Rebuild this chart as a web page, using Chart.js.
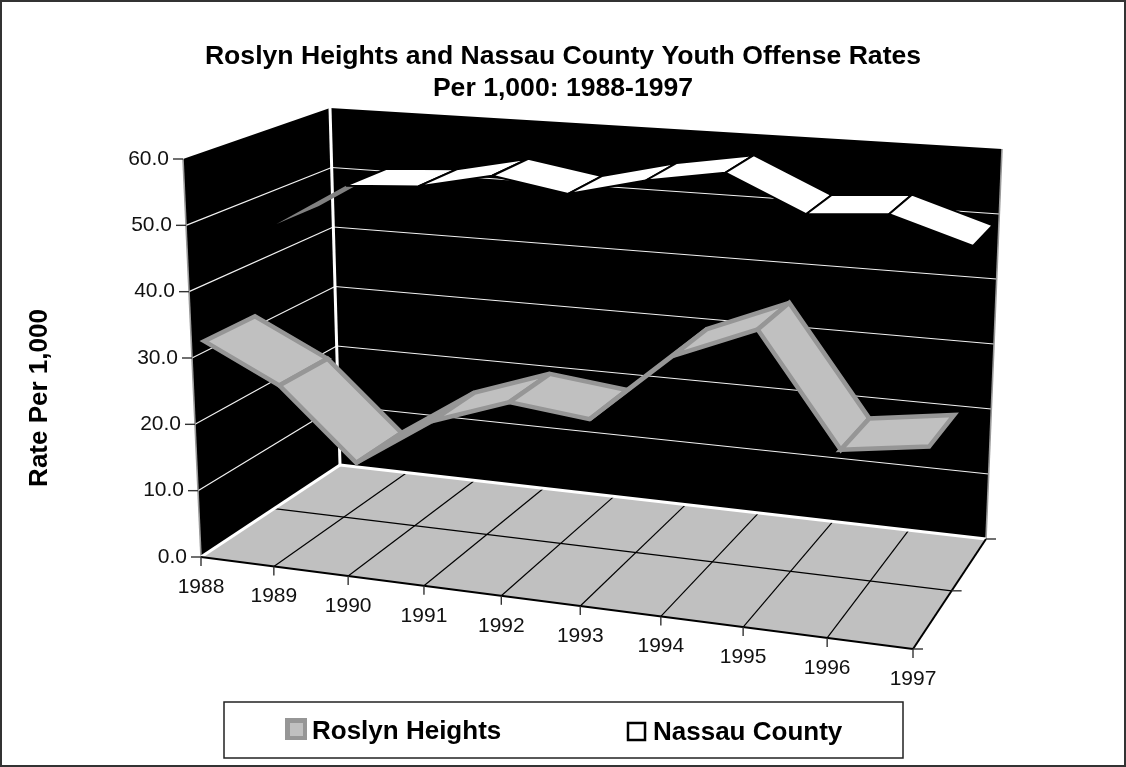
<!DOCTYPE html>
<html>
<head>
<meta charset="utf-8">
<style>html,body{margin:0;padding:0;background:#fff}canvas{display:block}</style>
<script src="https://cdn.jsdelivr.net/npm/chart.js@4"></script>
</head>
<body>
<canvas id="c" width="1126" height="767"></canvas>
<script>
const years = ['1988','1989','1990','1991','1992','1993','1994','1995','1996','1997'];
const roslynRates = [31.6,26.0,15.6,23.0,27.0,25.7,35.9,40.8,25.0,26.7];
const nassauRates = [44.5,51.5,52.2,54.7,52.7,55.6,57.6,52.2,53.1,49.3];
const valueMax = 60;
const valueStep = 10;

const FONT = '"Liberation Sans", Arial, sans-serif';

// Screen corners of the 3D plot box: floor and ceiling, ordered
// front-left, front-right, back-right, back-left.
const floorQuad = [[201,557],[913,649],[986,539],[340,465]];
const ceilQuad  = [[183,159],[935,212],[1002,149],[330,108]];

// Depth band of each ribbon across the floor (0 = front, 1 = back).
const ribbonDepth = [[0.08,0.415],[0.585,0.895]];

function unitSquareToQuad(q){
  const [[x0,y0],[x1,y1],[x2,y2],[x3,y3]] = q;
  const dx1=x1-x2, dx2=x3-x2, sx=x0-x1+x2-x3;
  const dy1=y1-y2, dy2=y3-y2, sy=y0-y1+y2-y3;
  const den=dx1*dy2-dx2*dy1;
  const g=(sx*dy2-dx2*sy)/den, h=(dx1*sy-sx*dy1)/den;
  const a=x1-x0+g*x1, b=x3-x0+h*x3, d=y1-y0+g*y1, e=y3-y0+h*y3;
  return (u,w)=>{
    const n=g*u+h*w+1;
    return [(a*u+b*w+x0)/n,(d*u+e*w+y0)/n];
  };
}
const floorMap = unitSquareToQuad(floorQuad);
const ceilMap  = unitSquareToQuad(ceilQuad);

// u: along the categories, w: depth, t: height, each in 0..1
function project(u,w,t){
  const a=floorMap(u,w), b=ceilMap(u,w);
  return [a[0]+(b[0]-a[0])*t, a[1]+(b[1]-a[1])*t];
}

function path(ctx,pts){
  ctx.beginPath();
  pts.forEach((p,i)=> i?ctx.lineTo(p[0],p[1]):ctx.moveTo(p[0],p[1]));
}
function polygon(ctx,pts,fill){
  path(ctx,pts); ctx.closePath(); ctx.fillStyle=fill; ctx.fill();
}
function segment(ctx,a,b,color,width){
  path(ctx,[a,b]); ctx.strokeStyle=color; ctx.lineWidth=width; ctx.stroke();
}
function signedArea(p){
  let s=0;
  p.forEach((a,i)=>{const b=p[(i+1)%p.length]; s+=a[0]*b[1]-b[0]*a[1];});
  return s/2;
}

const ribbonStyles = [
  {top:'#c0c0c0', under:'#969696', edge:'#969696', underEdge:1.5, edgeWidth:4.5},
  {top:'#ffffff', under:'#808080', edge:'#000000', underEdge:0, edgeWidth:2}
];

const plot3d = {
  id:'plot3d',
  beforeDatasetsDraw(chart){
    const {ctx,scales:{x,y}} = chart;
    const un = i => (x.getPixelForValue(i)-x.left)/x.width;
    const tn = v => (y.bottom-y.getPixelForValue(v))/y.height;
    ctx.save();
    ctx.lineJoin='miter'; ctx.miterLimit=3;

    // frame round the whole figure
    ctx.strokeStyle='#333'; ctx.lineWidth=2; ctx.strokeRect(1,1,1124,765);

    // walls
    polygon(ctx,[project(0,0,0),project(0,1,0),project(0,1,1),project(0,0,1)],'#000');
    polygon(ctx,[project(0,1,0),project(1,1,0),project(1,1,1),project(0,1,1)],'#000');

    // value gridlines on both walls
    const values = y.ticks.map(k=>k.value);
    values.forEach(v=>{
      if(v===0||v===valueMax) return;
      const t=tn(v);
      segment(ctx,project(0,0,t),project(0,1,t),'#f2f2f2',1.2);
      segment(ctx,project(0,1,t),project(1,1,t),'#f2f2f2',1.2);
    });
    segment(ctx,project(0,1,0),project(0,1,1),'#fff',3);
    segment(ctx,project(0,0,0),project(0,0,1),'#9a9a9a',1.6);
    segment(ctx,project(1,1,0),project(1,1,1),'#9a9a9a',1.6);

    // floor with its grid
    polygon(ctx,[project(0,0,0),project(1,0,0),project(1,1,0),project(0,1,0)],'#c0c0c0');
    years.forEach((_,i)=>{
      if(i===0||i===years.length-1) return;
      segment(ctx,project(un(i),0,0),project(un(i),1,0),'#000',1.2);
    });
    segment(ctx,project(0,0.5,0),project(1,0.5,0),'#000',1.2);
    segment(ctx,project(0,0,0),project(0,1,0),'#fff',3);
    segment(ctx,project(0,1,0),project(1,1,0),'#fff',3);
    segment(ctx,project(0,0,0),project(1,0,0),'#000',2);
    segment(ctx,project(1,0,0),project(1,1,0),'#000',2);

    // value axis ticks and labels, following the leaning front edge
    ctx.fillStyle='#111'; ctx.font='21px '+FONT;
    ctx.textAlign='right'; ctx.textBaseline='middle';
    y.ticks.forEach(k=>{
      const p=project(0,0,tn(k.value));
      segment(ctx,[p[0]-10,p[1]],p,'#333',1.4);
      ctx.fillText(k.label,p[0]-14,p[1]);
    });

    // category ticks and labels under the front edge
    ctx.textAlign='center';
    years.forEach((label,i)=>{
      const p=project(un(i),0,0);
      segment(ctx,p,[p[0],p[1]+9],'#333',1.4);
      ctx.fillStyle='#111';
      ctx.fillText(label,p[0],p[1]+30);
    });

    // depth ticks along the right floor edge
    [0,0.5,1].forEach(w=>{
      const p=project(1,w,0);
      segment(ctx,p,[p[0]+10,p[1]],'#333',1.4);
    });

    // ribbons, back series first
    for(let d=chart.data.datasets.length-1;d>=0;d--){
      const meta=chart.getDatasetMeta(d), style=ribbonStyles[d], band=ribbonDepth[d];
      const pos=meta.data.map(el=>[(el.x-x.left)/x.width,(y.bottom-el.y)/y.height]);
      for(let i=0;i<pos.length-1;i++){
        const quad=[
          project(pos[i][0],band[0],pos[i][1]),
          project(pos[i+1][0],band[0],pos[i+1][1]),
          project(pos[i+1][0],band[1],pos[i+1][1]),
          project(pos[i][0],band[1],pos[i][1])
        ];
        // screen y points down, so a negative area means the top face is showing
        const showsTop=signedArea(quad)<0;
        polygon(ctx,quad,showsTop?style.top:style.under);
        const edgeWidth=showsTop?style.edgeWidth:style.underEdge;
        if(edgeWidth>0){
          path(ctx,quad); ctx.closePath();
          ctx.strokeStyle=showsTop?style.edge:style.under;
          ctx.lineWidth=edgeWidth;
          ctx.stroke();
        }
      }
    }

    // axis title
    ctx.save();
    ctx.translate(40,398); ctx.rotate(-Math.PI/2);
    ctx.font='bold 26px '+FONT; ctx.fillStyle='#000';
    ctx.textAlign='center'; ctx.textBaseline='middle';
    ctx.fillText('Rate Per 1,000',0,0);
    ctx.restore();

    // legend box
    ctx.strokeStyle='#222'; ctx.lineWidth=1.5; ctx.strokeRect(224,702,679,56);
    ctx.font='bold 26px '+FONT; ctx.textAlign='left'; ctx.textBaseline='alphabetic';
    // Roslyn Heights key
    ctx.fillStyle='#969696'; ctx.fillRect(285,718,22,22);
    ctx.fillStyle='#c0c0c0'; ctx.fillRect(290,723,13,13);
    ctx.fillStyle='#000'; ctx.fillText(chart.data.datasets[0].label,312,739);
    // Nassau County key
    ctx.strokeStyle='#000'; ctx.lineWidth=2.5; ctx.strokeRect(628,723,17,17);
    ctx.fillStyle='#000'; ctx.fillText(chart.data.datasets[1].label,653,740);
    ctx.restore();
  }
};

new Chart(document.getElementById('c'),{
  type:'line',
  data:{
    labels:years,
    datasets:[
      {label:'Roslyn Heights',data:roslynRates,showLine:false,pointRadius:0},
      {label:'Nassau County',data:nassauRates,showLine:false,pointRadius:0}
    ]
  },
  options:{
    responsive:false,
    animation:false,
    layout:{padding:0},
    plugins:{
      legend:{display:false},
      tooltip:{enabled:false},
      title:{
        display:true,
        text:['Roslyn Heights and Nassau County Youth Offense Rates','Per 1,000: 1988-1997'],
        color:'#000',
        font:{family:FONT,size:26.6,weight:'bold',lineHeight:1.2},
        padding:{top:41,bottom:10}
      }
    },
    scales:{
      x:{type:'category',offset:false,display:false},
      y:{type:'linear',min:0,max:valueMax,display:false,
         ticks:{stepSize:valueStep,callback:v=>v.toFixed(1)}}
    }
  },
  plugins:[plot3d]
});
</script>
</body>
</html>
